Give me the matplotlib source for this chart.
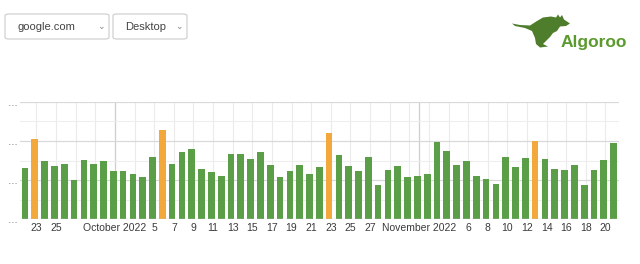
import numpy as np
import pandas as pd
import matplotlib
matplotlib.use("Agg")
import matplotlib.pyplot as plt
from matplotlib.patches import FancyBboxPatch, Polygon

plt.rcParams['font.family'] = ['Liberation Sans', 'DejaVu Sans']

# daily values, 22 Sep 2022 .. 21 Nov 2022
dates = pd.date_range("2022-09-22", "2022-11-21", freq="D")
values = [26.0, 41.1, 29.7, 27.2, 28.2, 20.1, 30.3, 28.2, 29.7,
          24.8, 24.5, 23.3, 21.7, 31.9, 45.6, 28.1, 34.5, 35.7, 25.7,
          24.1, 22.2, 33.3, 33.3, 30.8, 34.2, 27.6, 21.7, 24.8, 27.9,
          23.0, 26.5, 43.9, 32.8, 27.2, 24.5, 31.8, 17.5, 25.2, 27.2,
          21.7, 22.2, 23.3, 39.6, 34.8, 27.9, 29.7, 22.2, 20.6, 17.9,
          31.8, 26.8, 31.1, 39.9, 30.8, 25.7, 25.2, 27.9, 17.5, 25.2,
          30.3, 39.1]
highlight = ["2022-09-23", "2022-10-06", "2022-10-23", "2022-11-13"]

# shown tick labels (others hidden by overlap)
tick_labels = {"2022-09-23": "23", "2022-09-25": "25", "2022-10-01": "October 2022",
               "2022-10-05": "5", "2022-10-07": "7", "2022-10-09": "9", "2022-10-11": "11",
               "2022-10-13": "13", "2022-10-15": "15", "2022-10-17": "17", "2022-10-19": "19",
               "2022-10-21": "21", "2022-10-23": "23", "2022-10-25": "25", "2022-10-27": "27",
               "2022-11-01": "November 2022", "2022-11-06": "6", "2022-11-08": "8",
               "2022-11-10": "10", "2022-11-12": "12", "2022-11-14": "14", "2022-11-16": "16",
               "2022-11-18": "18", "2022-11-20": "20"}
grid_dates = (list(pd.date_range("2022-09-23", "2022-10-31", freq="2D"))
              + list(pd.date_range("2022-11-02", "2022-11-20", freq="2D")))
month_dates = ["2022-10-01", "2022-11-01"]

GREEN = "#5a9e48"
ORANGE = "#f3a83b"

fig = plt.figure(figsize=(6.4, 2.64), dpi=100)
W, H = 640, 264


def fx(x):
    return x / W


def fy(y):
    return 1 - y / H


ax = fig.add_axes([fx(20), fy(219.3), fx(599), 117.6 / H])

pos = np.arange(len(dates))
hl = set(pd.to_datetime(highlight))
colors = [ORANGE if d in hl else GREEN for d in dates]
ax.bar(pos, values, width=0.68, color=colors, zorder=3)

off = 0.17
idx = {d: i for i, d in enumerate(dates)}
for d in grid_dates:
    ax.axvline(idx[d] + off, color="#ebebeb", lw=0.8, zorder=1)
for d in month_dates:
    ax.axvline(idx[pd.Timestamp(d)] + off, color="#cfcfcf", lw=0.9, zorder=1)
for v in [10, 30, 50]:
    ax.axhline(v, color="#eeeeee", lw=0.8, zorder=1)
for v in [20, 40, 60]:
    ax.axhline(v, color="#d9d9d9", lw=0.9, zorder=1)
ax.axhline(0, color="#c8c8c8", lw=1.0, zorder=4)

ax.set_xlim(-0.51, 60.55)
ax.set_ylim(0, 60)
tk = [idx[pd.Timestamp(d)] + off for d in tick_labels]
ax.set_xticks(tk)
ax.set_xticklabels(list(tick_labels.values()), fontsize=7.5, color="#3a3a3a")
ax.set_yticks([0, 20, 40, 60])
ax.set_yticklabels(["…"] * 4, fontsize=7, color="#555555")
ax.tick_params(axis="both", length=0, pad=3)
ax.tick_params(axis="y", pad=2)
for s in ax.spines.values():
    s.set_visible(False)

# dropdowns
for (x0, x1, label) in [(5, 109, "google.com"), (113, 187, "Desktop")]:
    box = FancyBboxPatch((fx(x0), fy(39)), fx(x1 - x0), (39 - 14) / H,
                         boxstyle="round,pad=0,rounding_size=0.006",
                         transform=fig.transFigure, facecolor="white",
                         edgecolor="#cccccc", lw=0.8)
    fig.patches.append(box)
    fig.text(fx(x0 + 12), fy(27), label, fontsize=8, color="#444444", va="center")
    fig.text(fx(x1 - 8), fy(26.5), "⌄", fontsize=6.5, color="#888888",
             va="center", ha="center", family="DejaVu Sans")

# logo: kangaroo silhouette + name
kangaroo = [(512, 23.5), (520, 25), (530, 25.5), (537, 21), (543, 17.5), (551, 16.5),
            (556, 17.5), (558, 14.5), (560, 17.5), (562, 15), (564, 19.5), (570, 23.5),
            (566, 26), (560, 26.5), (557, 31), (553, 33), (550, 37), (546, 41), (543, 44),
            (548, 46.5), (540, 47.5), (536, 44), (535, 38), (532, 31), (525, 28), (515, 26)]
fig.patches.append(Polygon([(fx(x), fy(y)) for x, y in kangaroo], closed=True,
                           transform=fig.transFigure, facecolor="#4e7d2c", edgecolor="none"))
fig.text(fx(561), fy(43), "Algoroo", fontsize=12.5, fontweight="bold",
         color="#5b9a2e", va="center", ha="left")

fig.savefig("out.png", dpi=100, facecolor="white")
